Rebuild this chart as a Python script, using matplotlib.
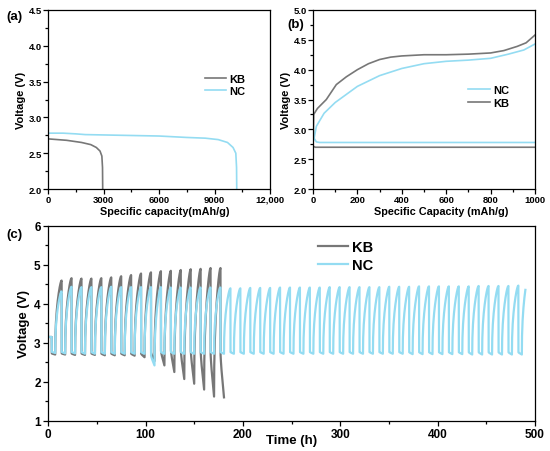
import numpy as np
import matplotlib
matplotlib.use('Agg')
import matplotlib.pyplot as plt
from matplotlib.ticker import MultipleLocator, FuncFormatter

plt.rcParams['font.family'] = ['Liberation Sans', 'DejaVu Sans']
plt.rcParams['font.weight'] = 'bold'
plt.rcParams['axes.labelweight'] = 'bold'

KB_COLOR = '#777777'
NC_COLOR = '#94dcf2'

# ---- (a) full discharge curves ----
kb_full_cap = [0, 1000, 1800, 2300, 2600, 2800, 2900, 2935, 2945]
kb_full_v = [2.70, 2.68, 2.65, 2.62, 2.58, 2.53, 2.46, 2.30, 2.00]
nc_full_cap = [0, 800, 1500, 2000, 4000, 6000, 7500, 8500, 9200, 9700, 10000, 10150, 10190, 10200]
nc_full_v = [2.78, 2.78, 2.77, 2.76, 2.75, 2.74, 2.72, 2.71, 2.69, 2.65, 2.58, 2.50, 2.30, 2.00]

# ---- (b) first cycle at 1000 mAh/g ----
kb_dis_cap = [0, 10, 1000]
kb_dis_v = [2.72, 2.70, 2.70]
kb_chg_cap = [0, 3, 20, 60, 105, 150, 200, 250, 300, 350, 400, 500, 600, 700, 800, 860, 920, 960, 1000]
kb_chg_v = [2.70, 3.25, 3.35, 3.50, 3.75, 3.88, 4.00, 4.10, 4.17, 4.21, 4.23, 4.25, 4.25, 4.26, 4.28, 4.32, 4.39, 4.45, 4.58]
nc_dis_cap = [0, 5, 15, 30, 1000]
nc_dis_v = [3.05, 2.85, 2.79, 2.78, 2.78]
nc_chg_cap = [0, 5, 15, 50, 100, 200, 300, 400, 500, 600, 700, 800, 880, 950, 1000]
nc_chg_v = [2.78, 2.85, 3.05, 3.27, 3.45, 3.72, 3.90, 4.02, 4.10, 4.14, 4.16, 4.19, 4.26, 4.33, 4.43]

# ---- (c) cycling, values per cycle ----
dis_h = 3.6           # hours of the flat (discharge) part of a cycle
chg_h = 6.6           # hours of the rising (charge) part
ocv_end = 3.5
ocv_v = 3.15
kb_peak = [4.60, 4.66, 4.65, 4.65, 4.66, 4.68, 4.71, 4.74, 4.78, 4.81, 4.84, 4.85,
           4.87, 4.89, 4.90, 4.92, 4.92]
kb_trough = [2.70, 2.70, 2.69, 2.69, 2.69, 2.68, 2.68, 2.68, 2.67, 2.63, 2.53, 2.42,
             2.25, 2.07, 1.95, 1.80, 1.62, 1.60]
kb_dis_top = [2.74, 2.74, 2.74, 2.74, 2.74, 2.74, 2.74, 2.74, 2.74, 2.76, 2.85, 2.95,
              3.05, 3.10, 3.15, 3.15, 3.15, 3.15]
nc_peak = [4.32, 4.44, 4.43, 4.43, 4.43, 4.44, 4.43, 4.43, 4.43, 4.43, 4.43, 4.42,
           4.42, 4.42, 4.42, 4.42, 4.42, 4.40, 4.40, 4.41, 4.41, 4.41, 4.42, 4.42,
           4.42, 4.42, 4.42, 4.43, 4.43, 4.43, 4.43, 4.43, 4.43, 4.44, 4.44, 4.44,
           4.45, 4.45, 4.45, 4.45, 4.45, 4.45, 4.46, 4.46, 4.46, 4.46, 4.47, 4.36]
nc_trough = [2.74, 2.73, 2.73, 2.72, 2.72, 2.72, 2.72, 2.72, 2.72, 2.72, 2.42, 2.72,
             2.72, 2.72, 2.72, 2.72, 2.72, 2.72, 2.72, 2.72, 2.72, 2.72, 2.72, 2.72,
             2.72, 2.72, 2.72, 2.72, 2.72, 2.72, 2.72, 2.72, 2.72, 2.72, 2.72, 2.72,
             2.71, 2.71, 2.71, 2.71, 2.71, 2.71, 2.70, 2.70, 2.70, 2.70, 2.70, 2.70]
nc_dis_top = 2.78
nc_last_frac = 0.55    # last charge is cut short

# shape of one cycle in (c): fraction of step time -> fraction of the voltage swing
dis_t_frac = [0, 0.03, 0.12, 0.3, 0.5, 0.7, 0.9, 1.0]
dis_v_frac = [0, 0.30, 0.40, 0.55, 0.68, 0.80, 0.93, 1.0]
chg_t_frac = [0, 0.03, 0.12, 0.25, 0.40, 0.55, 0.70, 0.82, 0.92, 1.0]
chg_v_frac = [0, 0.24, 0.44, 0.60, 0.73, 0.83, 0.91, 0.96, 0.99, 1.0]


def build_cycles(peaks, troughs, tops, last_frac=1.0):
    t = [0.0, ocv_end]
    v = [ocv_v, ocv_v]
    t0 = ocv_end
    for j in range(len(troughs)):
        top = tops[j] if np.ndim(tops) else tops
        for tf, vf in zip(dis_t_frac, dis_v_frac):
            t.append(t0 + tf * dis_h)
            v.append(top + vf * (troughs[j] - top))
        t0 += dis_h
        if j >= len(peaks):
            break
        lim = last_frac if j == len(peaks) - 1 else 1.0
        vf_end = np.interp(lim, chg_t_frac, chg_v_frac)
        for tf, vf in zip(chg_t_frac, chg_v_frac):
            if tf > lim:
                break
            t.append(t0 + tf * chg_h)
            v.append(troughs[j] + vf / vf_end * (peaks[j] - troughs[j]))
        t0 += chg_h
    return np.array(t), np.array(v)


kb_t, kb_v = build_cycles(kb_peak, kb_trough, kb_dis_top)
nc_t, nc_v = build_cycles(nc_peak, nc_trough, nc_dis_top, nc_last_frac)

fig = plt.figure(figsize=(5.5, 4.52), dpi=100)
ax_a = fig.add_axes([0.0878, 0.5796, 0.4031, 0.3961])
ax_b = fig.add_axes([0.5691, 0.5796, 0.4036, 0.3961])
ax_c = fig.add_axes([0.0878, 0.0670, 0.8849, 0.4308])


def style(ax, fs, pad):
    ax.tick_params(which='both', direction='out', top=False, right=False, labelsize=fs,
                   width=0.9, pad=pad)
    ax.tick_params(which='major', length=3.5)
    ax.tick_params(which='minor', length=2)
    for sp in ax.spines.values():
        sp.set_linewidth(0.9)


# (a)
ax_a.plot(kb_full_cap, kb_full_v, color=KB_COLOR, lw=1.2, label='KB')
ax_a.plot(nc_full_cap, nc_full_v, color=NC_COLOR, lw=1.2, label='NC')
ax_a.set_xlim(0, 12000)
ax_a.set_ylim(2.0, 4.5)
ax_a.xaxis.set_major_locator(MultipleLocator(3000))
ax_a.xaxis.set_minor_locator(MultipleLocator(1500))
ax_a.yaxis.set_major_locator(MultipleLocator(0.5))
ax_a.yaxis.set_minor_locator(MultipleLocator(0.25))
ax_a.xaxis.set_major_formatter(FuncFormatter(lambda x, p: f'{int(x):,}' if x >= 10000 else f'{int(x)}'))
ax_a.yaxis.set_major_formatter(FuncFormatter(lambda y, p: f'{y:.1f}'))
style(ax_a, 6.8, 0.8)
ax_a.set_xlabel('Specific capacity(mAh/g)', fontsize=7.8)
ax_a.xaxis.set_label_coords(0.526, -0.097)
ax_a.set_ylabel('Voltage (V)', fontsize=8)
ax_a.yaxis.set_label_coords(-0.10, 0.5)
ax_a.legend(loc='upper left', bbox_to_anchor=(0.705, 0.645), frameon=False, fontsize=8,
            handlelength=1.9, handletextpad=0.3, labelspacing=0.25, borderpad=0, borderaxespad=0)

# (b)
ax_b.plot(nc_dis_cap, nc_dis_v, color=NC_COLOR, lw=1.2, label='NC')
ax_b.plot(nc_chg_cap, nc_chg_v, color=NC_COLOR, lw=1.2)
ax_b.plot(kb_dis_cap, kb_dis_v, color=KB_COLOR, lw=1.2, label='KB')
ax_b.plot(kb_chg_cap, kb_chg_v, color=KB_COLOR, lw=1.2)
ax_b.set_xlim(0, 1000)
ax_b.set_ylim(2.0, 5.0)
ax_b.xaxis.set_major_locator(MultipleLocator(200))
ax_b.xaxis.set_minor_locator(MultipleLocator(100))
ax_b.yaxis.set_major_locator(MultipleLocator(0.5))
ax_b.yaxis.set_minor_locator(MultipleLocator(0.25))
ax_b.yaxis.set_major_formatter(FuncFormatter(lambda y, p: f'{y:.1f}'))
style(ax_b, 6.8, 0.8)
ax_b.set_xlabel('Specific Capacity (mAh/g)', fontsize=7.8)
ax_b.xaxis.set_label_coords(0.576, -0.097)
ax_b.set_ylabel('Voltage (V)', fontsize=8)
ax_b.yaxis.set_label_coords(-0.10, 0.5)
ax_b.legend(loc='upper left', bbox_to_anchor=(0.70, 0.58), frameon=False, fontsize=8,
            handlelength=1.9, handletextpad=0.3, labelspacing=0.25, borderpad=0, borderaxespad=0)

# (c)
ax_c.plot(kb_t, kb_v, color=KB_COLOR, lw=1.6, label='KB')
ax_c.plot(nc_t, nc_v, color=NC_COLOR, lw=1.6, label='NC')
ax_c.set_xlim(0, 500)
ax_c.set_ylim(1, 6)
ax_c.xaxis.set_major_locator(MultipleLocator(100))
ax_c.xaxis.set_minor_locator(MultipleLocator(50))
ax_c.yaxis.set_major_locator(MultipleLocator(1))
ax_c.yaxis.set_minor_locator(MultipleLocator(0.5))
style(ax_c, 8.5, 2.0)
ax_c.set_xlabel('Time (h)', fontsize=9.5)
ax_c.xaxis.set_label_coords(0.5, -0.068)
ax_c.set_ylabel('Voltage (V)', fontsize=9.5)
ax_c.yaxis.set_label_coords(-0.037, 0.5)
ax_c.legend(loc='upper left', bbox_to_anchor=(0.555, 0.93), frameon=False, fontsize=10.5,
            handlelength=2.0, handletextpad=0.3, labelspacing=0.3, borderpad=0, borderaxespad=0)

fig.text(0.012, 0.963, '(a)', fontsize=9.5, fontweight='bold', va='center')
fig.text(0.523, 0.945, '(b)', fontsize=9.5, fontweight='bold', va='center')
fig.text(0.012, 0.480, '(c)', fontsize=9.5, fontweight='bold', va='center')

fig.savefig('out.png', dpi=100)
